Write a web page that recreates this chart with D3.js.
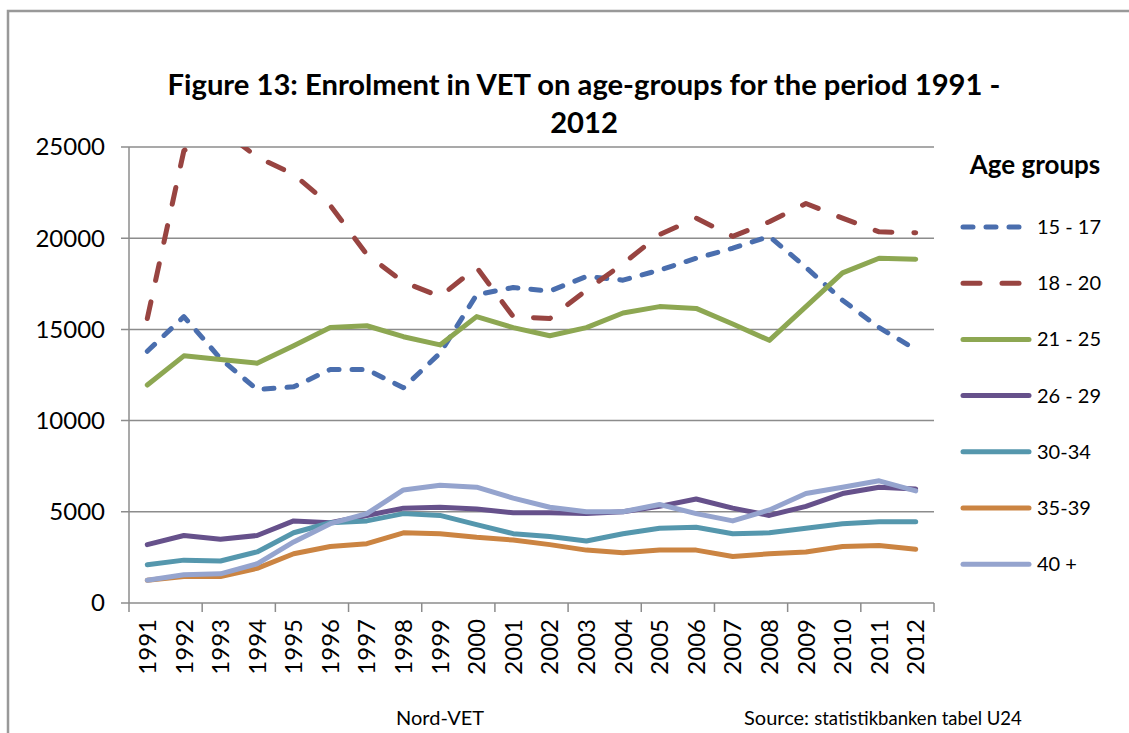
<!DOCTYPE html>
<html lang="en">
<head>
    <meta charset="UTF-8">
    <title>Figure 13: Enrolment in VET on age-groups</title>
    <script src="https://cdn.jsdelivr.net/npm/d3@7"></script>
    <style>
        body {
            margin: 0;
            background: #fff;
            font-family: 'Lato', 'Noto Sans', sans-serif;
        }
        svg { display: block; }
    </style>
</head>
<body>
    <svg id="chart" width="1129" height="733"></svg>

    <script>
        // categories
        const years = ["1991","1992","1993","1994","1995","1996","1997","1998","1999","2000","2001",
                       "2002","2003","2004","2005","2006","2007","2008","2009","2010","2011","2012"];

        // series values
        const age15_17 = [13800,15700,13400,11700,11850,12800,12800,11800,13700,16900,17300,
                          17100,17900,17700,18250,18900,19450,20100,18400,16600,15100,13900];
        const age18_20 = [15600,24800,26000,24450,23500,21800,19100,17600,16800,18400,15700,
                          15600,17150,18600,20200,21100,20100,20900,21900,21100,20350,20300];
        const age21_25 = [11950,13550,13350,13150,14100,15100,15200,14600,14150,15700,15100,
                          14650,15100,15900,16250,16150,15300,14400,16250,18100,18900,18850];
        const age26_29 = [3200,3700,3500,3700,4500,4400,4800,5200,5250,5150,4950,
                          4950,4900,5000,5300,5700,5200,4800,5300,6000,6350,6250];
        const age30_34 = [2100,2350,2300,2800,3850,4400,4500,4900,4800,4300,3800,
                          3650,3400,3800,4100,4150,3800,3850,4100,4350,4450,4450];
        const age35_39 = [1250,1450,1450,1900,2700,3100,3250,3850,3800,3600,3450,
                          3200,2900,2750,2900,2900,2550,2700,2800,3100,3150,2950];
        const age40plus = [1250,1550,1600,2150,3350,4350,4900,6200,6450,6350,5750,
                           5250,5000,5000,5400,4900,4500,5100,6000,6350,6700,6150];

        const seriesNames = ["15 - 17","18 - 20","21 - 25","26 - 29","30-34","35-39","40 +"];
        const yTicks = [0,5000,10000,15000,20000,25000];

        const series = [
            { name: seriesNames[0], values: age15_17, color: "#4a6eae", dash: "10,13" },
            { name: seriesNames[1], values: age18_20, color: "#984441", dash: "17,22" },
            { name: seriesNames[2], values: age21_25, color: "#8da752", dash: null },
            { name: seriesNames[3], values: age26_29, color: "#66518b", dash: null },
            { name: seriesNames[4], values: age30_34, color: "#5597ad", dash: null },
            { name: seriesNames[5], values: age35_39, color: "#cb8442", dash: null },
            { name: seriesNames[6], values: age40plus, color: "#95a4ce", dash: null }
        ];

        const svg = d3.select("#chart");
        const plot = { left: 129, right: 934, top: 147, bottom: 603 };

        // outer frame
        svg.append("path")
            .attr("d", "M8,1140 V11 H1140")
            .attr("fill", "none")
            .attr("stroke", "#999")
            .attr("stroke-width", 2.5);

        // title
        const title = svg.append("text")
            .attr("text-anchor", "middle")
            .attr("font-weight", "bold")
            .attr("font-size", 29.2)
            .attr("fill", "#000");
        title.append("tspan").attr("x", 584).attr("y", 95)
            .text("Figure 13: Enrolment in VET on age-groups for the period 1991 -");
        title.append("tspan").attr("x", 584).attr("y", 133).text("2012");

        const x = d3.scaleBand()
            .domain(years)
            .range([plot.left, plot.right]);

        const y = d3.scaleLinear()
            .domain([0, 25000])
            .range([plot.bottom, plot.top]);

        // gridlines + y ticks
        svg.append("g")
            .selectAll("line")
            .data(yTicks)
            .join("line")
            .attr("x1", plot.left - 8)
            .attr("x2", plot.right)
            .attr("y1", d => y(d))
            .attr("y2", d => y(d))
            .attr("stroke", "#8c8c8c")
            .attr("stroke-width", 1.5);

        svg.append("g")
            .selectAll("text")
            .data(yTicks)
            .join("text")
            .attr("x", plot.left - 24)
            .attr("y", d => y(d))
            .attr("dy", "0.35em")
            .attr("text-anchor", "end")
            .attr("font-size", 24)
            .attr("fill", "#000")
            .text(d => d);

        // y axis line
        svg.append("line")
            .attr("x1", plot.left).attr("x2", plot.left)
            .attr("y1", plot.top).attr("y2", plot.bottom)
            .attr("stroke", "#8c8c8c")
            .attr("stroke-width", 1.5);

        // x axis ticks every two categories
        const tickPos = years.filter((d, i) => i % 2 === 0).map(d => x(d)).concat([plot.right]);
        svg.append("g")
            .selectAll("line")
            .data(tickPos)
            .join("line")
            .attr("x1", d => d).attr("x2", d => d)
            .attr("y1", plot.bottom).attr("y2", plot.bottom + 9)
            .attr("stroke", "#8c8c8c")
            .attr("stroke-width", 1.5);

        // x labels, rotated
        svg.append("g")
            .selectAll("text")
            .data(years)
            .join("text")
            .attr("transform", d => `translate(${x(d) + x.bandwidth() / 2},${plot.bottom + 16}) rotate(-90)`)
            .attr("text-anchor", "end")
            .attr("dy", "0.36em")
            .attr("font-size", 24)
            .attr("fill", "#000")
            .text(d => d);

        // lines, clipped to the plot area
        svg.append("clipPath").attr("id", "clip")
            .append("rect")
            .attr("x", plot.left).attr("y", plot.top)
            .attr("width", plot.right - plot.left)
            .attr("height", plot.bottom - plot.top);

        const line = d3.line()
            .x((d, i) => x(years[i]) + x.bandwidth() / 2)
            .y(d => y(d));

        svg.append("g")
            .attr("clip-path", "url(#clip)")
            .selectAll("path")
            .data(series)
            .join("path")
            .attr("d", d => line(d.values))
            .attr("fill", "none")
            .attr("stroke", d => d.color)
            .attr("stroke-width", 5)
            .attr("stroke-linejoin", "round")
            .attr("stroke-linecap", "round")
            .attr("stroke-dasharray", d => d.dash);

        // legend
        const legend = svg.append("g");
        legend.append("text")
            .attr("x", 1035).attr("y", 174)
            .attr("text-anchor", "middle")
            .attr("font-weight", "bold")
            .attr("font-size", 26)
            .text("Age groups");

        const item = legend.selectAll("g.item")
            .data(series)
            .join("g")
            .attr("class", "item")
            .attr("transform", (d, i) => `translate(0,${227 + i * 56.2})`);

        item.append("line")
            .attr("x1", 963).attr("x2", 1029)
            .attr("stroke", d => d.color)
            .attr("stroke-width", 5)
            .attr("stroke-linecap", "round")
            .attr("stroke-dasharray", d => d.dash);

        item.append("text")
            .attr("x", 1037)
            .attr("dy", "0.35em")
            .attr("font-size", 20)
            .text(d => d.name);

        // footer
        svg.append("text")
            .attr("x", 396).attr("y", 725)
            .attr("font-size", 20)
            .text("Nord-VET");

        const src = svg.append("text")
            .attr("x", 744).attr("y", 725)
            .attr("font-size", 20);
        src.append("tspan").text("Source: ");
        src.append("tspan").attr("font-size", 18.5).text("statistikbanken tabel U24");
    </script>
</body>
</html>
